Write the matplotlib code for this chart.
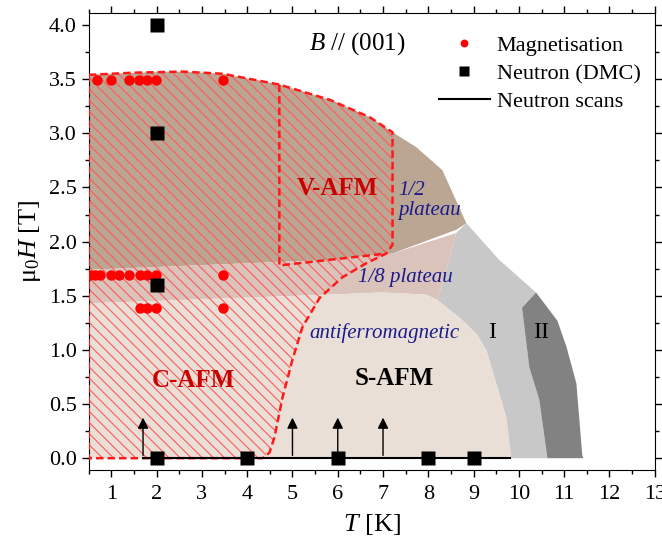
import numpy as np
import matplotlib
matplotlib.use("Agg")
import matplotlib.pyplot as plt

plt.rcParams['font.family'] = ['Liberation Serif', 'DejaVu Serif']
plt.rcParams['mathtext.fontset'] = 'custom'
plt.rcParams['mathtext.rm'] = 'Liberation Serif'
plt.rcParams['mathtext.it'] = 'Liberation Serif:italic'
plt.rcParams['hatch.linewidth'] = 0.8

# phase boundaries (T [K], mu0H [T])
top_T = [0.5, 1.5, 2.57, 3.46, 4.71, 5.82, 6.70, 7.21]
top_H = [3.54, 3.56, 3.57, 3.55, 3.45, 3.31, 3.15, 3.01]

half_T = [7.74, 8.31, 8.84, 8.62, 7.21, 5.8, 0.5]          # 1/2 plateau outer / lower edge
half_H = [2.87, 2.66, 2.17, 2.11, 1.89, 1.83, 1.74]

eighth_T = [0.5, 5.8, 7.21, 8.62, 8.46, 8.20, 7.96, 6.99, 5.8, 0.5]
eighth_H = [1.74, 1.83, 1.89, 2.08, 1.83, 1.46, 1.51, 1.53, 1.51, 1.43]

safm_T = [0.5, 5.8, 6.99, 7.96, 8.20, 8.68, 9.06, 9.28, 9.50, 9.72, 9.83, 0.5]
safm_H = [1.43, 1.51, 1.53, 1.51, 1.46, 1.30, 1.15, 1.00, 0.69, 0.38, 0.0, 0.0]

p1_T = [8.84, 9.57, 10.38, 10.07, 10.23, 10.45, 10.63, 9.83, 9.72, 9.50, 9.28, 9.06, 8.68, 8.20, 8.46, 8.62]
p1_H = [2.17, 1.83, 1.53, 1.39, 0.84, 0.54, 0.0, 0.0, 0.38, 0.69, 1.00, 1.15, 1.30, 1.46, 1.83, 2.08]

p2_T = [10.38, 10.85, 11.05, 11.27, 11.40, 11.42, 10.63, 10.45, 10.23, 10.07]
p2_H = [1.53, 1.27, 1.03, 0.69, 0.03, 0.0, 0.0, 0.54, 0.84, 1.39]

# C-AFM boundary (dashed), from V-AFM corner down to zero field
cafm_T = [7.21, 7.07, 6.63, 6.10, 5.60, 5.22, 5.00, 4.78, 4.60, 4.49, 4.34]
cafm_H = [1.97, 1.89, 1.80, 1.67, 1.48, 1.21, 0.91, 0.56, 0.19, 0.05, 0.0]

# V-AFM box (left edge, bottom edge)
vafm_T = [4.71, 4.71, 7.07]
vafm_H = [3.45, 1.78, 1.89]

# magnetisation points
mag_T = [0.68, 0.99, 1.38, 1.60, 1.78, 1.98, 3.46,
         0.52, 0.63, 0.76, 0.99, 1.18, 1.38, 1.63, 1.78, 1.98, 3.46,
         1.63, 1.78, 1.98, 3.46]
mag_H = [3.49] * 7 + [1.69] * 10 + [1.39] * 4

# neutron DMC points
dmc_T = [2, 2, 2, 2, 4, 6, 8, 9]
dmc_H = [4.0, 3.0, 1.6, 0.0, 0.0, 0.0, 0.0, 0.0]

# neutron scans
scan_T = [1.7, 9.8]
arrow_T = [1.7, 5.0, 6.0, 7.0]
arrow_top = 0.40

fig = plt.figure(figsize=(6.62, 5.46), dpi=100)
ax = fig.add_axes([0.134, 0.139, 0.855, 0.837])

c_half = '#bba693'
c_eighth = '#dac3ba'
c_safm = '#e9dfd6'
c_p1 = '#c8c8c8'
c_p2 = '#828282'
red = '#ff1a1a'

ax.fill(p1_T, p1_H, color=c_p1, lw=0, zorder=1)
ax.fill(p2_T, p2_H, color=c_p2, lw=0, zorder=1)
ax.fill(top_T + half_T, top_H + half_H, color=c_half, lw=0, zorder=1)
ax.fill(eighth_T, eighth_H, color=c_eighth, lw=0, zorder=1)
ax.fill(safm_T, safm_H, color=c_safm, lw=0, zorder=1)

# hatched region
hat_T = top_T + cafm_T + [0.5]
hat_H = top_H + cafm_H + [0.0]
ax.fill(hat_T, hat_H, facecolor='none', edgecolor='#ff5a5a', lw=0, hatch='\\\\\\', zorder=2)
ax.plot(hat_T + [0.5], hat_H + [top_H[0]], color=red, lw=1.8, ls=(0, (3, 1.6)), zorder=3)
ax.plot(vafm_T, vafm_H, color=red, lw=1.8, ls=(0, (3, 1.6)), zorder=3)

# data
ax.plot(scan_T, [0, 0], color='k', lw=1.5, zorder=4, label='Neutron scans')
for t in arrow_T:
    ax.annotate('', xy=(t, arrow_top), xytext=(t, 0),
                arrowprops=dict(arrowstyle='-|>', color='k', lw=1, mutation_scale=16), zorder=4)
ax.plot(mag_T, mag_H, 'o', color='#ff0000', ms=7.5, mec='none', zorder=5, label='Magnetisation')
ax.plot(dmc_T, dmc_H, 's', color='k', ms=9.5, mec='none', zorder=5, label='Neutron (DMC)')

# labels
ax.text(6.0, 2.49, 'V-AFM', color='#c80000', fontsize=18, fontweight='bold', ha='center', va='center', zorder=6)
ax.text(2.82, 0.72, 'C-AFM', color='#c80000', fontsize=18, fontweight='bold', ha='center', va='center', zorder=6)
ax.text(7.25, 0.74, 'S-AFM', color='k', fontsize=18, fontweight='bold', ha='center', va='center', zorder=6)
ax.text(7.03, 1.16, 'antiferromagnetic', color='#1a1a8c', fontsize=15, style='italic', ha='center', va='center', zorder=6)
ax.text(7.5, 1.67, '1/8 plateau', color='#1a1a8c', fontsize=15, style='italic', ha='center', va='center', zorder=6)
ax.text(7.34, 2.38, '1/2\nplateau', color='#1a1a8c', fontsize=15, style='italic', ha='left', va='center',
        linespacing=1.1, zorder=6)
ax.text(9.41, 1.16, 'I', fontsize=17, ha='center', va='center', zorder=6)
ax.text(10.5, 1.16, 'II', fontsize=17, ha='center', va='center', zorder=6)
ax.text(6.43, 3.83, '$B$ // (001)', fontsize=18, ha='center', va='center', zorder=6)

h, l = ax.get_legend_handles_labels()
order = [1, 2, 0]
ax.legend([h[i] for i in order], [l[i] for i in order], loc='upper right', frameon=False,
          bbox_to_anchor=(1.012, 0.997),
          fontsize=16, handlelength=2.3, handletextpad=0.3, labelspacing=0.33,
          borderaxespad=0.55, markerscale=0.75)

ax.set_xlim(0.5, 13)
ax.set_ylim(-0.11, 4.11)
ax.set_xticks(np.arange(1, 14, 1))
ax.set_xticks(np.arange(0.5, 13.01, 0.5), minor=True)
ax.set_yticks(np.arange(0, 4.01, 0.5))
ax.set_yticks(np.arange(0, 4.11, 0.25), minor=True)
ax.tick_params(which='both', direction='out', top=True, right=True, labelsize=16, width=1)
ax.tick_params(which='major', length=5)
ax.tick_params(which='minor', length=3)
ax.tick_params(axis='x', pad=5.5)
ax.set_yticklabels([f'{v:.1f}' for v in np.arange(0, 4.01, 0.5)])
ax.set_xlabel('$T$ [K]', fontsize=19, labelpad=6)
ax.set_ylabel('μ$_0$$H$ [T]', fontsize=19)

fig.savefig('out.png', dpi=100)
